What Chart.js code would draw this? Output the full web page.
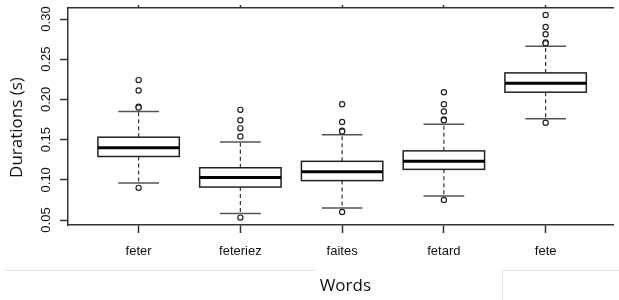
<!DOCTYPE html>
<html lang="fr">
  <head>
    <meta charset="UTF-8" />
    <title>Durations by word</title>
    <script src="https://cdn.jsdelivr.net/npm/chart.js"></script>
    <style>
      html, body { margin: 0; padding: 0; background: #fff; }
      canvas { display: block; }
    </style>
  </head>
  <body>
    <canvas id="boxChart" width="619" height="300"></canvas>

    <script>
      // Données
      const categories = ["feter", "feteriez", "faites", "fetard", "fete"];
      const whiskerLow = [0.096, 0.058, 0.065, 0.080, 0.176];
      const q1 = [0.129, 0.091, 0.099, 0.113, 0.209];
      const median = [0.140, 0.103, 0.110, 0.123, 0.220];
      const q3 = [0.153, 0.115, 0.123, 0.136, 0.233];
      const whiskerHigh = [0.185, 0.147, 0.156, 0.169, 0.266];
      const outliers = [
        [0.224, 0.211, 0.191, 0.190, 0.090],
        [0.187, 0.174, 0.164, 0.154, 0.053],
        [0.194, 0.172, 0.161, 0.160, 0.060],
        [0.209, 0.194, 0.185, 0.175, 0.174, 0.075],
        [0.305, 0.290, 0.281, 0.271, 0.270, 0.171],
      ];
      const yTicks = [0.05, 0.10, 0.15, 0.20, 0.25, 0.30];

      const outlierPoints = [];
      outliers.forEach((list, i) => {
        list.forEach((v) => outlierPoints.push({ x: i + 1, y: v }));
      });

      const catTicks = (scale) => {
        scale.ticks = categories.map((c, i) => ({ value: i + 1 }));
      };

      // Boîtes à moustaches dessinées avec les échelles du graphique
      const boxPlugin = {
        id: "boxes",
        beforeDatasetsDraw(chart) {
          const ctx = chart.ctx;
          const xs = chart.scales.x;
          const ys = chart.scales.y;
          categories.forEach((c, i) => {
            const cx = xs.getPixelForValue(i + 1);
            const bl = xs.getPixelForValue(i + 1 - 0.4);
            const br = xs.getPixelForValue(i + 1 + 0.4);
            const cl = xs.getPixelForValue(i + 1 - 0.2);
            const cr = xs.getPixelForValue(i + 1 + 0.2);
            const yLo = ys.getPixelForValue(whiskerLow[i]);
            const yQ1 = ys.getPixelForValue(q1[i]);
            const yMed = ys.getPixelForValue(median[i]);
            const yQ3 = ys.getPixelForValue(q3[i]);
            const yHi = ys.getPixelForValue(whiskerHigh[i]);

            ctx.save();
            // moustaches
            ctx.strokeStyle = "#333";
            ctx.lineWidth = 1.2;
            ctx.setLineDash([4, 3]);
            ctx.beginPath();
            ctx.moveTo(cx, yQ1);
            ctx.lineTo(cx, yLo);
            ctx.moveTo(cx, yQ3);
            ctx.lineTo(cx, yHi);
            ctx.stroke();
            ctx.setLineDash([]);
            // extrémités
            ctx.strokeStyle = "#555";
            ctx.lineWidth = 1.5;
            ctx.beginPath();
            ctx.moveTo(cl, yLo);
            ctx.lineTo(cr, yLo);
            ctx.moveTo(cl, yHi);
            ctx.lineTo(cr, yHi);
            ctx.stroke();
            // boîte
            ctx.fillStyle = "#fff";
            ctx.fillRect(bl, yQ3, br - bl, yQ1 - yQ3);
            ctx.strokeStyle = "#222";
            ctx.lineWidth = 1.5;
            ctx.strokeRect(bl, yQ3, br - bl, yQ1 - yQ3);
            // médiane
            ctx.strokeStyle = "#000";
            ctx.lineWidth = 3;
            ctx.beginPath();
            ctx.moveTo(bl, yMed);
            ctx.lineTo(br, yMed);
            ctx.stroke();
            ctx.restore();
          });
        },
        afterDraw(chart) {
          // traits gris du document d'origine
          const ctx = chart.ctx;
          ctx.save();
          ctx.strokeStyle = "#e2e2e2";
          ctx.lineWidth = 1;
          ctx.beginPath();
          ctx.moveTo(4, 270.5);
          ctx.lineTo(316, 270.5);
          ctx.moveTo(502.5, 300);
          ctx.lineTo(502.5, 270.5);
          ctx.lineTo(619, 270.5);
          ctx.stroke();
          ctx.restore();
        },
      };

      const axisColor = "#333";
      const tickFont = { family: "'Liberation Sans', Arial, sans-serif", size: 13 };

      new Chart(document.getElementById("boxChart"), {
        type: "scatter",
        data: {
          datasets: [
            {
              data: outlierPoints,
              pointStyle: "circle",
              pointRadius: 2.6,
              borderColor: "#222",
              backgroundColor: "#fff",
              borderWidth: 1.2,
            },
          ],
        },
        options: {
          responsive: false,
          animation: false,
          layout: { padding: 0 },
          plugins: {
            legend: { display: false },
            tooltip: { enabled: false },
          },
          scales: {
            x: {
              type: "linear",
              position: "bottom",
              min: 0.306,
              max: 5.67,
              afterBuildTicks: catTicks,
              afterFit: (s) => {
                s.height = 75;
                s.paddingLeft = 0;
                s.paddingRight = 0;
              },
              ticks: {
                autoSkip: false,
                maxRotation: 0,
                padding: 11,
                color: "#111",
                font: tickFont,
                callback: (v) => categories[Math.round(v) - 1],
              },
              grid: {
                drawOnChartArea: false,
                tickLength: 8,
                tickColor: axisColor,
                tickWidth: 1.5,
              },
              border: { display: true, color: axisColor, width: 1.5 },
              title: {
                display: true,
                text: "  Words",
                color: "#111",
                font: { family: "'Open Sans', sans-serif", size: 17 },
                padding: { top: 0, bottom: 4 },
              },
            },
            x2: {
              type: "linear",
              position: "top",
              min: 0.306,
              max: 5.67,
              afterBuildTicks: catTicks,
              afterFit: (s) => {
                s.height = 8;
              },
              ticks: { display: false },
              grid: {
                drawOnChartArea: false,
                tickLength: 3,
                tickColor: axisColor,
                tickWidth: 1.5,
              },
              border: { display: true, color: axisColor, width: 1.5 },
            },
            y: {
              type: "linear",
              position: "left",
              min: 0.0438,
              max: 0.3137,
              afterBuildTicks: (s) => {
                s.ticks = yTicks.map((v) => ({ value: v }));
              },
              afterFit: (s) => {
                s.width = 68;
                s.paddingTop = 0;
                s.paddingBottom = 0;
              },
              ticks: {
                minRotation: 90,
                maxRotation: 90,
                crossAlign: "center",
                padding: 1,
                color: "#111",
                font: tickFont,
                callback: (v) => v.toFixed(2),
              },
              grid: {
                drawOnChartArea: false,
                tickLength: 8,
                tickColor: axisColor,
                tickWidth: 1.5,
              },
              border: { display: true, color: axisColor, width: 1.5 },
              title: {
                display: true,
                text: "Durations (s)     ",
                color: "#111",
                font: { family: "'Open Sans', sans-serif", size: 17 },
                padding: { top: 7, bottom: 0 },
              },
            },
          },
        },
        plugins: [boxPlugin],
      });
    </script>
  </body>
</html>
